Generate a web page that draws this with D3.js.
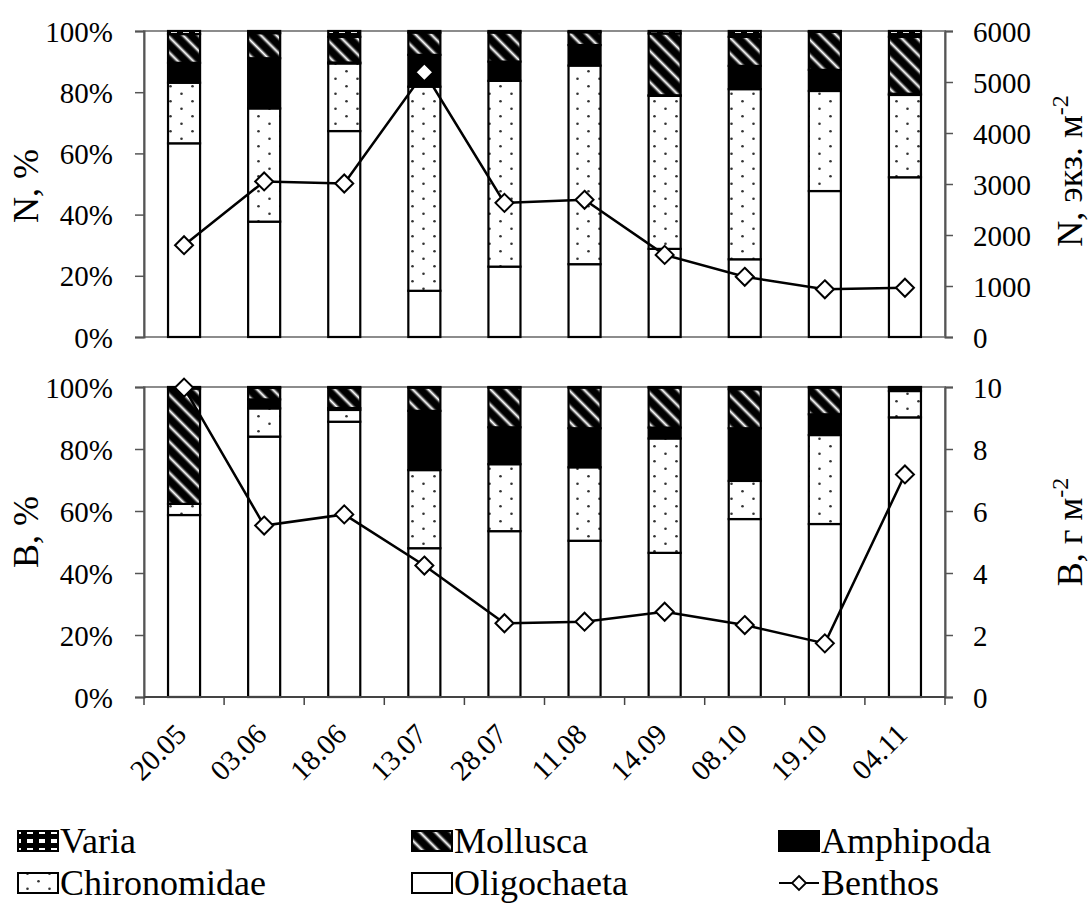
<!DOCTYPE html>
<html>
<head>
<meta charset="utf-8">
<script src="https://cdn.jsdelivr.net/npm/d3@7"></script>
<style>
html,body{margin:0;background:#fff}
#wrap{position:relative;width:1091px;height:918px}
#wrap svg{position:absolute;left:0;top:0}
</style>
</head>
<body>
<div id="wrap">
<svg id="marks" width="1091" height="918"></svg>
<svg id="labels" width="1091" height="918"></svg>
</div>
<script>
// Sampling dates
const dates = ["20.05", "03.06", "18.06", "13.07", "28.07", "11.08", "14.09", "08.10", "19.10", "04.11"];

// Stack order, bottom to top
const groups = ["Oligochaeta", "Chironomidae", "Amphipoda", "Mollusca", "Varia"];

// Share of abundance, N, %
const nOligochaeta  = [63.3, 37.7, 67.3, 15.1, 23.0, 23.8, 28.8, 25.4, 47.7, 52.2];
const nChironomidae = [19.8, 37.0, 22.1, 66.7, 60.7, 64.9, 50.0, 55.6, 32.7, 26.9];
const nAmphipoda    = [ 6.5, 16.4,  0.3, 10.4,  6.3,  6.7,  0.2,  7.6,  6.9,  0.4];
const nMollusca     = [ 9.4,  8.2,  8.4,  7.3,  9.5,  4.2, 20.2,  9.5, 12.4, 18.6];
const nVaria        = [ 1.0,  0.7,  1.9,  0.5,  0.5,  0.4,  0.8,  1.9,  0.3,  1.9];
// Total abundance, ind. m-2
const nBenthos      = [1800, 3050, 3010, 5190, 2630, 2690, 1610, 1180, 935, 965];

// Share of biomass, B, %
const bOligochaeta  = [58.7, 84.0, 88.8, 48.0, 53.5, 50.4, 46.5, 57.4, 55.8, 90.2];
const bChironomidae = [ 3.6,  9.1,  3.8, 25.2, 21.6, 23.7, 36.9, 12.3, 28.7,  8.5];
const bAmphipoda    = [ 0.0,  2.9,  0.6, 19.1, 11.9, 12.6,  3.5, 17.0,  6.7,  1.1];
const bMollusca     = [37.2,  3.7,  6.5,  7.5, 12.8, 13.1, 12.9, 12.6,  8.6,  0.0];
const bVaria        = [ 0.5,  0.3,  0.3,  0.2,  0.2,  0.2,  0.2,  0.7,  0.2,  0.2];
// Total biomass, g m-2
const bBenthos      = [9.98, 5.53, 5.89, 4.24, 2.38, 2.43, 2.75, 2.32, 1.73, 7.18];

// Axis ticks
const pctTicks = [0, 20, 40, 60, 80, 100];
const nTicks = [0, 1000, 2000, 3000, 4000, 5000, 6000];
const bTicks = [0, 2, 4, 6, 8, 10];

const svg = d3.select("#marks");     // bars, lines, legend swatches
const lab = d3.select("#labels");    // axes and all text

// ---------- fill patterns ----------
const defs = svg.append("defs");

// soft white diagonal stripe on black
const sg = defs.append("linearGradient").attr("id", "stripeGrad")
  .attr("x1", 0).attr("y1", 0).attr("x2", 0).attr("y2", 1);
[[0, "#000"], [0.28, "#000"], [0.5, "#fff"], [0.72, "#000"], [1, "#000"]]
  .forEach(([o, c]) => sg.append("stop").attr("offset", o).attr("stop-color", c));
const moll = defs.append("pattern").attr("id", "pMollusca")
  .attr("patternUnits", "userSpaceOnUse").attr("width", 11).attr("height", 11)
  .attr("patternTransform", "rotate(45)");
moll.append("rect").attr("width", 11).attr("height", 11).attr("fill", "url(#stripeGrad)");

// checker for Varia
const varia = defs.append("pattern").attr("id", "pVaria")
  .attr("patternUnits", "userSpaceOnUse").attr("width", 12).attr("height", 9);
varia.append("rect").attr("width", 12).attr("height", 9).attr("fill", "#000");
varia.append("rect").attr("x", 3).attr("y", 2).attr("width", 6).attr("height", 4).attr("fill", "#fff");

// sparse dots for Chironomidae
const chir = defs.append("pattern").attr("id", "pChironomidae")
  .attr("patternUnits", "userSpaceOnUse").attr("width", 22).attr("height", 15);
chir.append("rect").attr("width", 22).attr("height", 15).attr("fill", "#fff");
chir.append("circle").attr("cx", 5.5).attr("cy", 3.75).attr("r", 1.3).attr("fill", "#333");
chir.append("circle").attr("cx", 16.5).attr("cy", 11.25).attr("r", 1.3).attr("fill", "#333");

const fills = {
  Oligochaeta: "#fff",
  Chironomidae: "url(#pChironomidae)",
  Amphipoda: "#000",
  Mollusca: "url(#pMollusca)",
  Varia: "url(#pVaria)"
};

// ---------- shared geometry ----------
const x0 = 144, x1 = 945;
const x = d3.scaleBand().domain(dates).range([x0, x1]).paddingInner(0.6).paddingOuter(0.3);
const tickFont = 29;

const diamond = "M0,-9L9,0L0,9L-9,0Z";

// serif face for every label
function serifText(sel, size) {
  return sel.style("font-family", '"Liberation Serif"').attr("font-size", size);
}

function panel(opt) {
  const y = d3.scaleLinear().domain([0, 100]).range([opt.bottom, opt.top]);
  const yr = d3.scaleLinear().domain([0, opt.rmax]).range([opt.bottom, opt.top]);
  const g = svg.append("g");
  const t = lab.append("g");

  // frame
  g.append("rect").attr("x", x0).attr("y", opt.top)
    .attr("width", x1 - x0).attr("height", opt.bottom - opt.top)
    .attr("fill", "none").attr("stroke", "#8c8c8c").attr("stroke-width", 2);

  // stacked bars
  const rows = dates.map((d, i) => {
    const r = { date: d };
    groups.forEach(k => r[k] = opt.series[k][i]);
    return r;
  });
  const stacked = d3.stack().keys(groups)(rows);
  stacked.forEach(layer => {
    g.append("g").selectAll("rect").data(layer).join("rect")
      .attr("x", d => x(d.data.date))
      .attr("width", x.bandwidth())
      .attr("y", d => y(d[1]))
      .attr("height", d => Math.max(0, y(d[0]) - y(d[1])))
      .attr("fill", fills[layer.key])
      .attr("stroke", "#000").attr("stroke-width", 2.2);
  });

  // benthos line
  const cx = d => x(d) + x.bandwidth() / 2;
  g.append("path")
    .datum(opt.total)
    .attr("fill", "none").attr("stroke", "#000").attr("stroke-width", 2.5)
    .attr("d", d3.line().x((v, i) => cx(dates[i])).y(v => yr(v)));
  g.append("g").selectAll("path").data(opt.total).join("path")
    .attr("d", diamond)
    .attr("transform", (v, i) => `translate(${cx(dates[i])},${yr(v)})`)
    .attr("fill", "#fff").attr("stroke", "#000").attr("stroke-width", 2);

  // left axis
  const la = t.append("g").attr("transform", `translate(${x0},0)`)
    .call(d3.axisLeft(y).tickValues(pctTicks).tickFormat(d => d + "%").tickSize(9).tickPadding(22));
  la.attr("font-family", null).attr("font-size", null);
  la.select(".domain").attr("stroke", "#555").attr("stroke-width", 2);
  la.selectAll(".tick line").attr("stroke", "#555").attr("stroke-width", 1.5);
  serifText(la.selectAll("text"), tickFont).attr("dy", "0.35em");

  // right axis
  const ra = t.append("g").attr("transform", `translate(${x1},0)`)
    .call(d3.axisRight(yr).tickValues(opt.rticks).tickFormat(d3.format("d")).tickSize(8).tickPadding(20));
  ra.attr("font-family", null).attr("font-size", null);
  ra.select(".domain").attr("stroke", "#555").attr("stroke-width", 2);
  ra.selectAll(".tick line").attr("stroke", "#555").attr("stroke-width", 1.5);
  serifText(ra.selectAll("text"), tickFont).attr("dy", "0.35em");

  // axis titles
  serifText(t.append("text"), 36)
    .attr("transform", `translate(38,${opt.ltY}) rotate(-90)`)
    .attr("text-anchor", "middle")
    .text(opt.ltitle);
  const rt = serifText(t.append("text"), 36)
    .attr("transform", `translate(1082,${opt.rtY}) rotate(-90)`)
    .attr("text-anchor", "middle");
  rt.append("tspan").text(opt.rtitle);
  rt.append("tspan").attr("dy", -14).attr("font-size", 24).text("-2");
  return t;
}

panel({
  top: 31, bottom: 337, rmax: 6000, rticks: nTicks,
  series: { Oligochaeta: nOligochaeta, Chironomidae: nChironomidae, Amphipoda: nAmphipoda, Mollusca: nMollusca, Varia: nVaria },
  total: nBenthos, ltitle: "N, %", rtitle: "N, экз. м", ltY: 186, rtY: 171
});

const bottomLabels = panel({
  top: 387, bottom: 697, rmax: 10, rticks: bTicks,
  series: { Oligochaeta: bOligochaeta, Chironomidae: bChironomidae, Amphipoda: bAmphipoda, Mollusca: bMollusca, Varia: bVaria },
  total: bBenthos, ltitle: "B, %", rtitle: "B, г м", ltY: 532, rtY: 532
});

// category ticks between bars and rotated date labels
const edges = dates.map(d => x(d) - x.step() * x.paddingInner() / 2).concat([x1]);
edges[0] = x0;
bottomLabels.append("g").selectAll("line").data(edges).join("line")
  .attr("x1", d => d).attr("x2", d => d)
  .attr("y1", 697).attr("y2", 705)
  .attr("stroke", "#444").attr("stroke-width", 1.5);
bottomLabels.append("line").attr("x1", x0).attr("x2", x1).attr("y1", 697).attr("y2", 697)
  .attr("stroke", "#444").attr("stroke-width", 2);
serifText(bottomLabels.append("g").selectAll("text").data(dates).join("text"), tickFont)
  .attr("transform", d => `translate(${x(d) + x.bandwidth() / 2 + 4},736) rotate(-45)`)
  .attr("text-anchor", "end")
  .text(d => d);

// ---------- legend ----------
const legendItems = [
  { name: "Varia", kind: "Varia", col: 0, row: 0 },
  { name: "Mollusca", kind: "Mollusca", col: 1, row: 0 },
  { name: "Amphipoda", kind: "Amphipoda", col: 2, row: 0 },
  { name: "Chironomidae", kind: "Chironomidae", col: 0, row: 1 },
  { name: "Oligochaeta", kind: "Oligochaeta", col: 1, row: 1 },
  { name: "Benthos", kind: "line", col: 2, row: 1 }
];
const colX = [18, 412, 779];
const rowY = [831, 873];
const lg = svg.append("g");
const lt = lab.append("g");
legendItems.forEach(it => {
  const px = colX[it.col], py = rowY[it.row];
  if (it.kind === "line") {
    lg.append("line").attr("x1", px).attr("x2", px + 40).attr("y1", py + 10).attr("y2", py + 10)
      .attr("stroke", "#000").attr("stroke-width", 2);
    lg.append("path").attr("d", "M0,-7L7,0L0,7L-7,0Z")
      .attr("transform", `translate(${px + 20},${py + 10})`)
      .attr("fill", "#fff").attr("stroke", "#000").attr("stroke-width", 1.8);
  } else {
    lg.append("rect").attr("x", px).attr("y", py).attr("width", 40).attr("height", 20)
      .attr("fill", fills[it.kind]).attr("stroke", "#000").attr("stroke-width", 2);
  }
  serifText(lt.append("text"), 36).attr("x", px + 42).attr("y", py + 22).text(it.name);
});
</script>
</body>
</html>
